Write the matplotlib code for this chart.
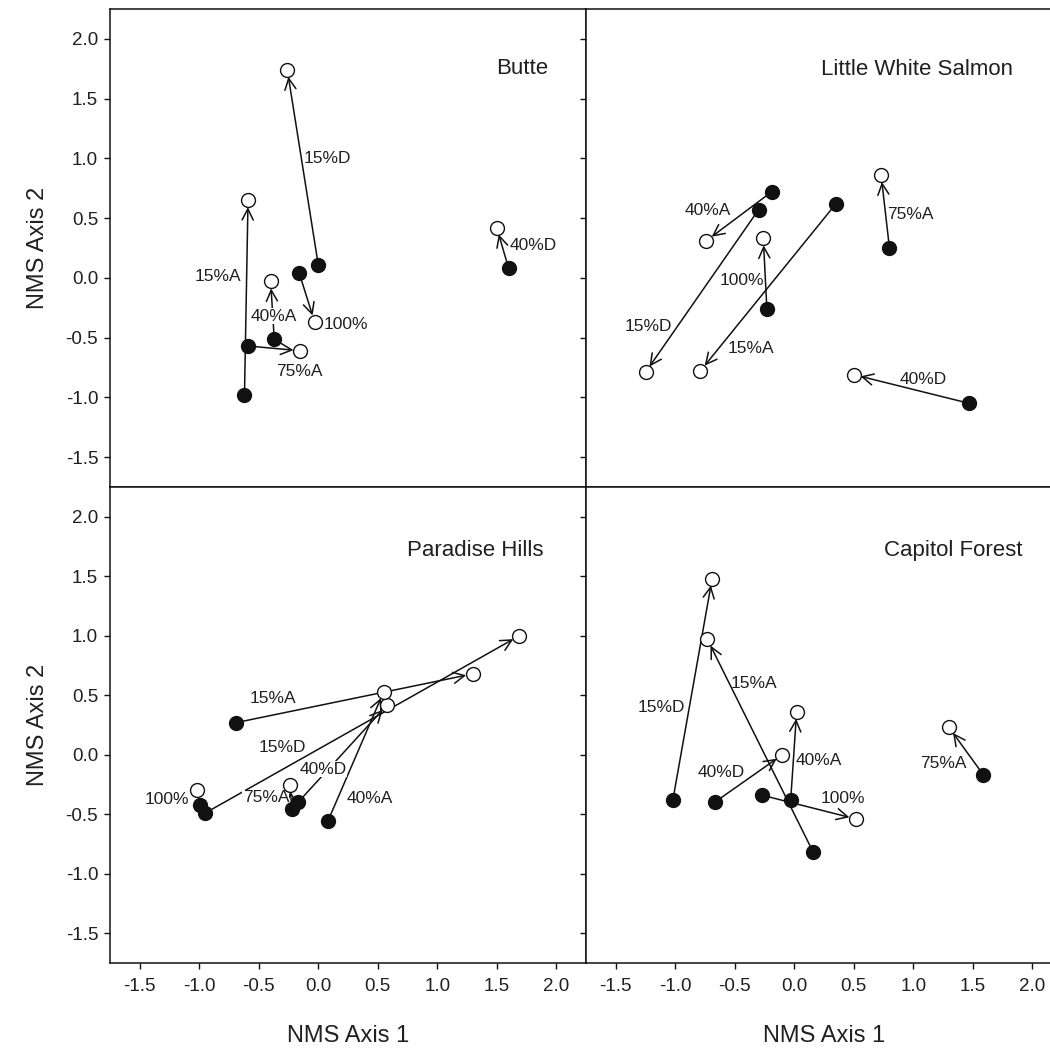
import matplotlib
matplotlib.use("Agg")
import matplotlib.pyplot as plt

plt.rcParams['font.family'] = ['Liberation Sans', 'DejaVu Sans']

TXT = '#231f20'

# site names, one per panel (top-left, top-right, bottom-left, bottom-right)
sites = ['Butte', 'Little White Salmon', 'Paradise Hills', 'Capitol Forest']

# treatment of each arrow, per site
butte_trt = ['15%D', '100%', '15%A', '75%A', '40%A', '40%D']
lws_trt = ['40%A', '15%D', '15%A', '100%', '75%A', '40%D']
para_trt = ['100%', '75%A', '40%D', '40%A', '15%A', '15%D']
cap_trt = ['15%D', '15%A', '40%D', '40%A', '100%', '75%A']

# filled points (before) and open points (after), NMS axis 1 / axis 2
butte_fx = [0.00, -0.16, -0.62, -0.59, -0.37, 1.60]
butte_fy = [0.11, 0.04, -0.98, -0.57, -0.51, 0.08]
butte_ox = [-0.26, -0.03, -0.59, -0.15, -0.40, 1.50]
butte_oy = [1.74, -0.37, 0.65, -0.61, -0.03, 0.42]

lws_fx = [-0.19, -0.30, 0.35, -0.23, 0.80, 1.47]
lws_fy = [0.72, 0.57, 0.62, -0.26, 0.25, -1.05]
lws_ox = [-0.74, -1.25, -0.79, -0.26, 0.73, 0.50]
lws_oy = [0.31, -0.79, -0.78, 0.33, 0.86, -0.81]

para_fx = [-0.99, -0.22, -0.17, 0.08, -0.69, -0.95]
para_fy = [-0.42, -0.46, -0.40, -0.56, 0.27, -0.49]
para_ox = [-1.02, -0.24, 0.58, 0.55, 1.30, 1.69]
para_oy = [-0.30, -0.25, 0.42, 0.53, 0.68, 1.00]

cap_fx = [-1.02, 0.16, -0.67, -0.03, -0.27, 1.59]
cap_fy = [-0.38, -0.82, -0.40, -0.38, -0.34, -0.17]
cap_ox = [-0.69, -0.73, -0.10, 0.02, 0.52, 1.30]
cap_oy = [1.48, 0.97, 0.00, 0.36, -0.54, 0.23]

# where each treatment label sits (data coords, text centre)
butte_lab = [(0.08, 1.00), (0.23, -0.39), (-0.84, 0.01), (-0.16, -0.78), (-0.37, -0.32), (1.81, 0.27)]
lws_lab = [(-0.73, 0.56), (-1.23, -0.41), (-0.36, -0.59), (-0.44, -0.02), (0.98, 0.53), (1.08, -0.85)]
para_lab = [(-1.27, -0.38), (-0.44, -0.36), (0.04, -0.12), (0.43, -0.37), (-0.38, 0.47), (-0.30, 0.06)]
cap_lab = [(-1.12, 0.40), (-0.34, 0.60), (-0.61, -0.15), (0.21, -0.05), (0.41, -0.37), (1.25, -0.07)]

title_pos = [(1.71, 1.75), (1.03, 1.74), (1.32, 1.72), (1.34, 1.72)]

# labels that sit on top of an arrow and blank it out
masked = {(0, '40%A'), (2, '40%D'), (2, '75%A')}

panels = [
    (butte_trt, butte_fx, butte_fy, butte_ox, butte_oy, butte_lab),
    (lws_trt, lws_fx, lws_fy, lws_ox, lws_oy, lws_lab),
    (para_trt, para_fx, para_fy, para_ox, para_oy, para_lab),
    (cap_trt, cap_fx, cap_fy, cap_ox, cap_oy, cap_lab),
]

ticks = [-1.5, -1.0, -0.5, 0.0, 0.5, 1.0, 1.5, 2.0]
tick_labels = ['-1.5', '-1.0', '-0.5', '0.0', '0.5', '1.0', '1.5', '2.0']

fig = plt.figure(figsize=(10.5, 10.49), dpi=100)

W = 476 / 1050
positions = [
    [110 / 1050, 562 / 1049, W, 478 / 1049],
    [110 / 1050 + W, 562 / 1049, W, 478 / 1049],
    [110 / 1050, 86 / 1049, W, 476 / 1049],
    [110 / 1050 + W, 86 / 1049, W, 476 / 1049],
]

for i, (trt, fx, fy, ox, oy, lab) in enumerate(panels):
    ax = fig.add_axes(positions[i])
    ax.set_xlim(-1.75, 2.25)
    ax.set_ylim(-1.75, 2.25)

    for j in range(len(trt)):
        ax.annotate('', xy=(ox[j], oy[j]), xytext=(fx[j], fy[j]),
                    arrowprops=dict(arrowstyle='->', color='#111111', lw=1.1,
                                    shrinkA=0, shrinkB=5, mutation_scale=20),
                    zorder=2)
        bb = None
        if (i, trt[j]) in masked:
            bb = dict(facecolor='white', edgecolor='none', pad=0.3)
        ax.text(lab[j][0], lab[j][1], trt[j], fontsize=12.5, color=TXT,
                ha='center', va='center', zorder=3, bbox=bb)

    ax.plot(fx, fy, 'o', ms=10, mfc='#111111', mec='#111111', ls='none', zorder=4)
    ax.plot(ox, oy, 'o', ms=10, mfc='white', mec='#111111', mew=1.0, ls='none', zorder=4)

    ax.text(title_pos[i][0], title_pos[i][1], sites[i], fontsize=16, color=TXT,
            ha='center', va='center')

    ax.set_xticks(ticks)
    ax.set_yticks(ticks)
    ax.tick_params(direction='out', length=4.5, width=1.0, colors='#111111',
                   labelsize=13.5, labelcolor=TXT, pad=6)
    ax.tick_params(axis='y', pad=4)
    for s in ax.spines.values():
        s.set_linewidth(1.1)
        s.set_color('#111111')

    if i % 2 == 0:
        ax.set_yticklabels(tick_labels)
        ax.set_ylabel('NMS Axis 2', fontsize=17, color=TXT, labelpad=12)
    else:
        ax.set_yticklabels([])
    if i >= 2:
        ax.set_xticklabels(tick_labels)
        ax.set_xlabel('NMS Axis 1', fontsize=17, color=TXT, labelpad=22)
    else:
        ax.set_xticklabels([])

fig.savefig('out.png', dpi=100)
